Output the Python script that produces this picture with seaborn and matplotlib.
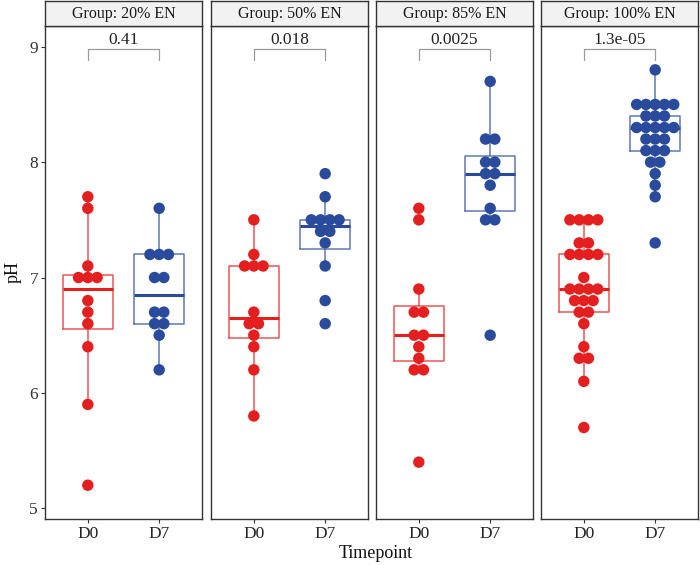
import numpy as np
import pandas as pd
import matplotlib
matplotlib.use("Agg")
import matplotlib.pyplot as plt
import seaborn as sns

sns.set_theme(style="white")
plt.rcParams['font.family'] = ['Liberation Serif', 'DejaVu Serif']

groups = ["20% EN", "50% EN", "85% EN", "100% EN"]
timepoints = ["D0", "D7"]
p_values = ["0.41", "0.018", "0.0025", "1.3e-05"]

ph_20_d0 = [7.7, 7.6, 7.1, 7.0, 7.0, 7.0, 6.8, 6.7, 6.6, 6.4, 5.9, 5.2]
ph_20_d7 = [7.6, 7.2, 7.2, 7.2, 7.0, 7.0, 6.7, 6.7, 6.6, 6.6, 6.5, 6.2]
ph_50_d0 = [7.5, 7.2, 7.1, 7.1, 7.1, 6.7, 6.6, 6.6, 6.5, 6.4, 6.2, 5.8]
ph_50_d7 = [7.9, 7.7, 7.5, 7.5, 7.5, 7.5, 7.4, 7.4, 7.3, 7.1, 6.8, 6.6]
ph_85_d0 = [7.6, 7.5, 6.9, 6.7, 6.7, 6.5, 6.5, 6.4, 6.3, 6.2, 6.2, 5.4]
ph_85_d7 = [8.7, 8.2, 8.2, 8.0, 8.0, 7.9, 7.9, 7.8, 7.6, 7.5, 7.5, 6.5]
ph_100_d0 = [7.5, 7.5, 7.5, 7.5, 7.3, 7.3, 7.2, 7.2, 7.2, 7.2, 7.0,
             6.9, 6.9, 6.9, 6.9, 6.8, 6.8, 6.8, 6.7, 6.7, 6.6, 6.4,
             6.3, 6.3, 6.1, 5.7]
ph_100_d7 = [8.8, 8.5, 8.5, 8.5, 8.5, 8.5, 8.4, 8.4, 8.4, 8.3, 8.3,
             8.3, 8.3, 8.3, 8.2, 8.2, 8.2, 8.1, 8.1, 8.1, 8.0, 8.0,
             7.9, 7.8, 7.7, 7.3]

series = {
    ("20% EN", "D0"): ph_20_d0, ("20% EN", "D7"): ph_20_d7,
    ("50% EN", "D0"): ph_50_d0, ("50% EN", "D7"): ph_50_d7,
    ("85% EN", "D0"): ph_85_d0, ("85% EN", "D7"): ph_85_d7,
    ("100% EN", "D0"): ph_100_d0, ("100% EN", "D7"): ph_100_d7,
}
rows = []
for (g, t), vals in series.items():
    for v in vals:
        rows.append({"Group": g, "Timepoint": t, "pH": v})
df = pd.DataFrame(rows)

colors = {"D0": "#E3201F", "D7": "#2A4B9B"}
W, H = 700, 565
fig = plt.figure(figsize=(7.0, 5.65), dpi=100)

lefts = [45, 211, 376, 541]
pw = 157
top_px, bot_px = 26, 519
ylim = (4.907, 9.18)
dot_step = 0.13

for i, g in enumerate(groups):
    ax = fig.add_axes([lefts[i] / W, (H - bot_px) / H, pw / W, (bot_px - top_px) / H])
    sub = df[df.Group == g]
    sns.boxplot(data=sub, x="Timepoint", y="pH", hue="Timepoint", order=timepoints,
                hue_order=timepoints, palette=colors, fill=False, width=0.7,
                showfliers=False, showcaps=False, linewidth=1.1, legend=False,
                boxprops=dict(alpha=0.75), whiskerprops=dict(alpha=0.75),
                medianprops=dict(linewidth=2.2), ax=ax, zorder=2)
    # dotplot-style centred stacks
    for j, t in enumerate(timepoints):
        vals = np.array(series[(g, t)])
        xs, ys = [], []
        for v in np.unique(vals):
            k = int(np.sum(np.isclose(vals, v)))
            for m in range(k):
                xs.append(j + (m - (k - 1) / 2) * dot_step)
                ys.append(v)
        ax.scatter(xs, ys, s=68, color=colors[t], edgecolor="none", zorder=3)
    # significance bracket
    ax.plot([0, 0, 1, 1], [8.885, 8.98, 8.98, 8.885], color="#9a9a9a", lw=0.9, zorder=4)
    ax.text(0.5, 9.02, p_values[i], ha="center", va="baseline", fontsize=12.5, color="#222222")

    ax.set_xlim(-0.6, 1.6)
    ax.set_ylim(*ylim)
    ax.set_xlabel("")
    ax.set_ylabel("")
    ax.set_xticks([0, 1])
    ax.set_xticklabels(timepoints, fontsize=12.5, color="#222222")
    ax.tick_params(axis="x", length=3, width=0.8, color="#333333", pad=2, bottom=True)
    if i == 0:
        ax.set_yticks([5, 6, 7, 8, 9])
        ax.set_yticklabels(["5", "6", "7", "8", "9"], fontsize=12.5, color="#333333")
        ax.tick_params(axis="y", length=3, width=0.8, color="#333333", pad=2, left=True)
    else:
        ax.set_yticks([])
    for s in ax.spines.values():
        s.set_color("#333333")
        s.set_linewidth(1.0)

    # strip
    sax = fig.add_axes([lefts[i] / W, (H - top_px) / H, pw / W, (top_px - 1) / H])
    sax.set_facecolor("#F2F2F2")
    sax.set_xticks([])
    sax.set_yticks([])
    for s in sax.spines.values():
        s.set_color("#333333")
        s.set_linewidth(1.0)
    sax.text(0.5, 0.5, "Group: " + g, ha="center", va="center", fontsize=11.5,
             color="#1a1a1a", transform=sax.transAxes)

fig.text(376 / W, (H - 553) / H, "Timepoint", ha="center", va="center", fontsize=13, color="#111111")
fig.text(13 / W, (H - 272) / H, "pH", ha="center", va="center", rotation=90, fontsize=13, color="#111111")

fig.savefig("out.png", dpi=100)
